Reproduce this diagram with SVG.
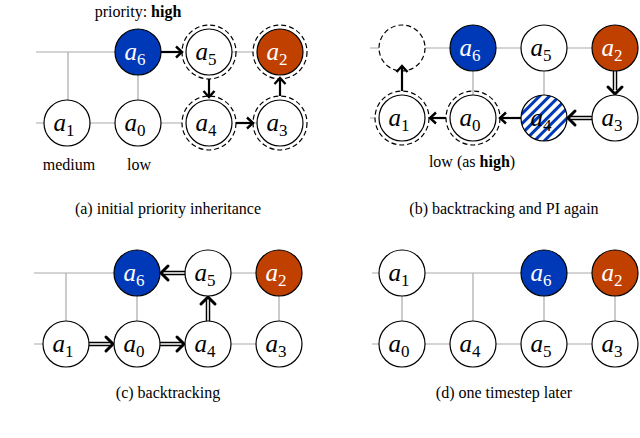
<svg xmlns="http://www.w3.org/2000/svg" width="640" height="438" viewBox="0 0 640 438" font-family="'Liberation Serif', 'DejaVu Serif', serif">
<style>
.g{stroke:#aaa;stroke-width:1.2;fill:none}
.n{fill:#fff;stroke:#000;stroke-width:1.2}
.b{fill:#0039b8;stroke:#000;stroke-width:1.2}
.o{fill:#c04000;stroke:#000;stroke-width:1.2}
.d{fill:none;stroke:#000;stroke-width:1.2;stroke-dasharray:5,3}
.l{font-style:italic;font-size:25px;text-anchor:middle}
.w{fill:#fff}
.s{font-style:normal;font-size:17px}
.t{font-size:16px;text-anchor:middle}
.a{stroke:#000;stroke-width:2.2;fill:none;marker-end:url(#ch)}
.a2{stroke:none;fill:none;marker-end:url(#ch2)}
.dd{stroke:#000;stroke-width:4.5;fill:none}
.dw{stroke:#fff;stroke-width:1.6;fill:none}
</style>
<defs>
<marker id="ch" markerUnits="userSpaceOnUse" markerWidth="14" markerHeight="14" viewBox="-8 -7 10 14" refX="0" refY="0" orient="auto" overflow="visible"><path d="M-6,-5.5 L0,0 L-6,5.5" fill="none" stroke="#000" stroke-width="2.4"/></marker>
<marker id="ch2" markerUnits="userSpaceOnUse" markerWidth="16" markerHeight="18" viewBox="-10 -9 12 18" refX="0" refY="0" orient="auto" overflow="visible"><path d="M-7,-7 L0,0 L-7,7" fill="none" stroke="#000" stroke-width="3" stroke-linecap="round"/></marker>
<pattern id="h" width="7" height="7" patternUnits="userSpaceOnUse" patternTransform="rotate(-45)"><rect width="7" height="7" fill="#fff"/><rect width="7" height="3" fill="#0039b8"/></pattern>
</defs>
<g id="connectors">
<path class="g" d="M36,52H115M68,52V100M138,75V100M36,123H44M90,123H115M161,123H182M236,123H257M232,52H253"/>
<path class="a" d="M161,52H182"/>
<path class="a" d="M209,79V97"/>
<path class="a" d="M236,123H253"/>
<path class="a" d="M280,96V78"/>
<path class="g" d="M370,48H379M425,48H450M496,48H521M567,48H592M473,71V95M544,71V95M370,118H375"/>
<path class="a" d="M402,91V66"/>
<path class="a" d="M446,118H430"/>
<path class="a" d="M521,118H500"/>
<path class="dd" d="M592,118H570M615,71V90"/><path class="dw" d="M592,118H570M615,71V90"/>
<path class="a2" d="M580,118H568"/><path class="a2" d="M615,84V94"/>
<path class="g" d="M34,273H114M66,273V321M137,296V321M231,273H256M279,296V321M34,344H43M231,344H256"/>
<path class="dd" d="M185,273H163M89,344H111M160,344H182M208,321V299"/><path class="dw" d="M185,273H163M89,344H111M160,344H182M208,321V299"/>
<path class="a2" d="M174,273H161"/><path class="a2" d="M102,344H113"/><path class="a2" d="M173,344H184"/><path class="a2" d="M208,307V297"/>
<path class="g" d="M372,273H379M425,273H521M473,273V321M402,296V321M544,296V321M615,296V321M567,273H592M372,344H379M425,344H450M496,344H521M567,344H592"/>
</g>
<g id="nodes-a">
<g id="a-a1"><circle class="n" cx="67" cy="123" r="23"/><text class="l" x="64" y="131">a<tspan class="s" dy="5">1</tspan></text></g>
<g id="a-a0"><circle class="n" cx="138" cy="123" r="23"/><text class="l" x="135" y="131">a<tspan class="s" dy="5">0</tspan></text></g>
<g id="a-a6"><circle class="b" cx="138" cy="52" r="23"/><text class="l w" x="135" y="60">a<tspan class="s" dy="5">6</tspan></text></g>
<g id="a-a5"><circle class="n" cx="209" cy="52" r="23"/><circle class="d" cx="209" cy="52" r="27"/><text class="l" x="206" y="60">a<tspan class="s" dy="5">5</tspan></text></g>
<g id="a-a4"><circle class="n" cx="209" cy="123" r="23"/><circle class="d" cx="209" cy="123" r="27"/><text class="l" x="206" y="131">a<tspan class="s" dy="5">4</tspan></text></g>
<g id="a-a2"><circle class="o" cx="280" cy="52" r="23"/><circle class="d" cx="280" cy="52" r="27"/><text class="l w" x="277" y="60">a<tspan class="s" dy="5">2</tspan></text></g>
<g id="a-a3"><circle class="n" cx="280" cy="123" r="23"/><circle class="d" cx="280" cy="123" r="27"/><text class="l" x="277" y="131">a<tspan class="s" dy="5">3</tspan></text></g>
<text class="t" x="138" y="17">priority: <tspan font-weight="bold">high</tspan></text>
<text class="t" x="69" y="170">medium</text>
<text class="t" x="139" y="170">low</text>
<text class="t" x="168" y="214">(a) initial priority inheritance</text>
</g>
<g id="nodes-b">
<g id="b-empty"><circle class="d" cx="402" cy="48" r="23" fill="#fff"/></g>
<g id="b-a6"><circle class="b" cx="473" cy="48" r="23"/><text class="l w" x="470" y="56">a<tspan class="s" dy="5">6</tspan></text></g>
<g id="b-a5"><circle class="n" cx="544" cy="48" r="23"/><text class="l" x="541" y="56">a<tspan class="s" dy="5">5</tspan></text></g>
<g id="b-a2"><circle class="o" cx="615" cy="48" r="23"/><text class="l w" x="612" y="56">a<tspan class="s" dy="5">2</tspan></text></g>
<g id="b-a1"><circle class="n" cx="402" cy="118" r="23"/><circle class="d" cx="402" cy="118" r="27"/><text class="l" x="399" y="126">a<tspan class="s" dy="5">1</tspan></text></g>
<g id="b-a0"><circle class="n" cx="473" cy="118" r="23"/><circle class="d" cx="473" cy="118" r="27"/><text class="l" x="470" y="126">a<tspan class="s" dy="5">0</tspan></text></g>
<g id="b-a4"><circle cx="544" cy="118" r="23" fill="url(#h)" stroke="#000" stroke-width="1.2"/><text class="l" x="541" y="126">a<tspan class="s" dy="5">4</tspan></text></g>
<g id="b-a3"><circle class="n" cx="615" cy="118" r="23"/><text class="l" x="612" y="126">a<tspan class="s" dy="5">3</tspan></text></g>
<text class="t" x="472" y="167">low (as <tspan font-weight="bold">high</tspan>)</text>
<text class="t" x="504" y="214">(b) backtracking and PI again</text>
</g>
<g id="nodes-c">
<g id="c-a6"><circle class="b" cx="137" cy="273" r="23"/><text class="l w" x="134" y="281">a<tspan class="s" dy="5">6</tspan></text></g>
<g id="c-a5"><circle class="n" cx="208" cy="273" r="23"/><text class="l" x="205" y="281">a<tspan class="s" dy="5">5</tspan></text></g>
<g id="c-a2"><circle class="o" cx="279" cy="273" r="23"/><text class="l w" x="276" y="281">a<tspan class="s" dy="5">2</tspan></text></g>
<g id="c-a1"><circle class="n" cx="66" cy="344" r="23"/><text class="l" x="63" y="352">a<tspan class="s" dy="5">1</tspan></text></g>
<g id="c-a0"><circle class="n" cx="137" cy="344" r="23"/><text class="l" x="134" y="352">a<tspan class="s" dy="5">0</tspan></text></g>
<g id="c-a4"><circle class="n" cx="208" cy="344" r="23"/><text class="l" x="205" y="352">a<tspan class="s" dy="5">4</tspan></text></g>
<g id="c-a3"><circle class="n" cx="279" cy="344" r="23"/><text class="l" x="276" y="352">a<tspan class="s" dy="5">3</tspan></text></g>
<text class="t" x="168" y="398">(c) backtracking</text>
</g>
<g id="nodes-d">
<g id="d-a1"><circle class="n" cx="402" cy="273" r="23"/><text class="l" x="399" y="281">a<tspan class="s" dy="5">1</tspan></text></g>
<g id="d-a6"><circle class="b" cx="544" cy="273" r="23"/><text class="l w" x="541" y="281">a<tspan class="s" dy="5">6</tspan></text></g>
<g id="d-a2"><circle class="o" cx="615" cy="273" r="23"/><text class="l w" x="612" y="281">a<tspan class="s" dy="5">2</tspan></text></g>
<g id="d-a0"><circle class="n" cx="402" cy="344" r="23"/><text class="l" x="399" y="352">a<tspan class="s" dy="5">0</tspan></text></g>
<g id="d-a4"><circle class="n" cx="473" cy="344" r="23"/><text class="l" x="470" y="352">a<tspan class="s" dy="5">4</tspan></text></g>
<g id="d-a5"><circle class="n" cx="544" cy="344" r="23"/><text class="l" x="541" y="352">a<tspan class="s" dy="5">5</tspan></text></g>
<g id="d-a3"><circle class="n" cx="615" cy="344" r="23"/><text class="l" x="612" y="352">a<tspan class="s" dy="5">3</tspan></text></g>
<text class="t" x="504" y="398">(d) one timestep later</text>
</g>
</svg>
